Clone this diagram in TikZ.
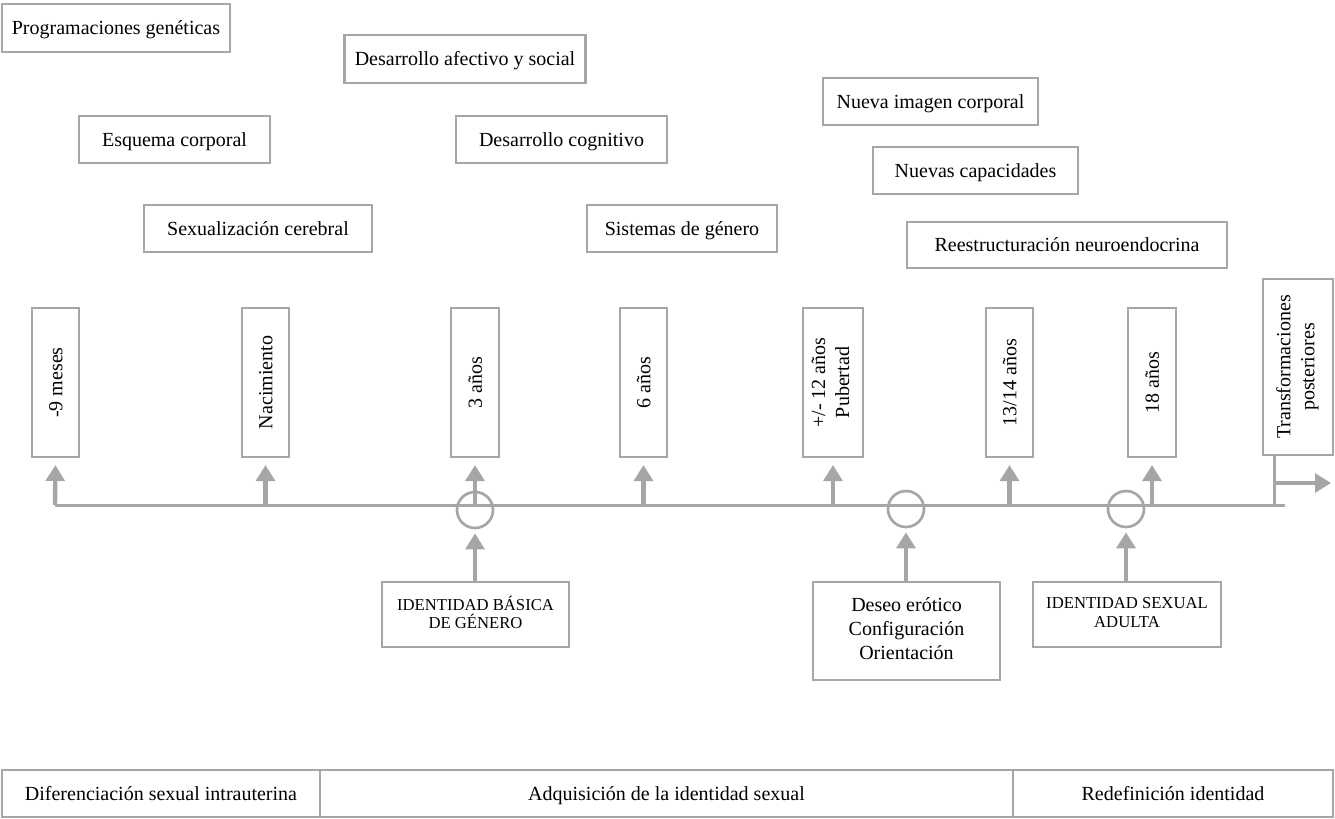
\documentclass[tikz,border=0pt]{standalone}
\usepackage{fontspec}
\setmainfont{Liberation Serif}
\usetikzlibrary{arrows.meta}
\definecolor{lg}{RGB}{166,166,166}
\newcommand\vs{\rule[-0.217\baselineskip]{0pt}{\baselineskip}}
\begin{document}
\begin{tikzpicture}[x=0.75pt,y=-0.75pt,
  box/.style={draw=lg,line width=2pt,inner sep=0pt,align=center,font=\fontsize{15}{18}\selectfont,execute at begin node=\vs},
  vbox/.style={box,rotate=90,minimum width=111.75pt},
  capbox/.style={box,font=\fontsize{12.5}{14}\selectfont},
  ring/.style={circle,draw=lg,line width=2pt,minimum size=27pt,inner sep=0pt},
  upar/.style={draw=lg,line width=3.3pt,-{Triangle[width=14pt,length=12pt]},shorten >=5pt},
  tline/.style={draw=lg,line width=2.25pt},
  band/.style={box,minimum height=35.25pt,font=\fontsize{15}{18}\selectfont}]
\useasboundingbox (0,0) rectangle (1335,818);
% top boxes
\node[box,minimum width=171pt,minimum height=36pt] (prog) at (116,28) {Programaciones genéticas};
\node[box,minimum width=180.75pt,minimum height=36pt] (afec) at (465,59) {Desarrollo afectivo y social};
\node[box,minimum width=143.25pt,minimum height=35.25pt] (esq) at (174.5,139.5) {Esquema corporal};
\node[box,minimum width=158.25pt,minimum height=35.25pt] (cogn) at (561.5,139.5) {Desarrollo cognitivo};
\node[box,minimum width=171pt,minimum height=35.25pt] (sexc) at (258,228.5) {Sexualización cerebral};
\node[box,minimum width=142.5pt,minimum height=35.25pt] (sisg) at (682,228.5) {Sistemas de género};
\node[box,minimum width=161.25pt,minimum height=35.25pt] (nimg) at (930.5,101.5) {Nueva imagen corporal};
\node[box,minimum width=153.75pt,minimum height=35.25pt] (ncap) at (975.5,170.5) {Nuevas capacidades};
\node[box,minimum width=240pt,minimum height=34.5pt] (rees) at (1067,245) {Reestructuración neuroendocrina};
% vertical boxes
\node[vbox,minimum height=35.25pt] (m9) at (55.5,382.5) {-9 meses};
\node[vbox,minimum height=35.25pt] (nac) at (265.5,382.5) {Nacimiento};
\node[vbox,minimum height=36pt] (a3) at (475,382.5) {3 años};
\node[vbox,minimum height=35.25pt] (a6) at (643.5,382.5) {6 años};
\node[vbox,minimum height=45pt] (pub) at (833,382.5) {+/- 12 años\\\vs Pubertad};
\node[vbox,minimum height=35.25pt] (a13) at (1009.5,382.5) {13/14 años};
\node[vbox,minimum height=36pt] (a18) at (1152,382.5) {18 años};
\node[vbox,minimum width=132pt,minimum height=52.5pt] (trans) at (1298,367) {Transformaciones\\\vs posteriores};
% timeline
\coordinate (t0) at (55,505);
\coordinate (tend) at (1285,505);
\draw[tline] (t0) -- (tend);
\coordinate (tnac) at (265.5,505);
\coordinate (ta3) at (475,505);
\coordinate (ta6) at (643.5,505);
\coordinate (tpub) at (833,505);
\coordinate (ta13) at (1009.5,505);
\coordinate (ta18) at (1152,505);
\draw[upar] (t0) -- (m9.west);
\draw[upar] (tnac) -- (nac.west);
\draw[upar] (ta3) -- (a3.west);
\draw[upar] (ta6) -- (a6.west);
\draw[upar] (tpub) -- (pub.west);
\draw[upar] (ta13) -- (a13.west);
\draw[upar] (ta18) -- (a18.west);
% rings
\node[ring] (r1) at (475,510) {};
\node[ring] (r2) at (906,509) {};
\node[ring] (r3) at (1126,509) {};
% bottom boxes
\node[capbox,minimum width=140.25pt,minimum height=48.75pt] (ibg) at (475.5,614.5) {IDENTIDAD BÁSICA\\\vs DE GÉNERO};
\node[box,minimum width=140.25pt,minimum height=73.5pt] (des) at (906.5,631) {Deseo erótico\\\vs Configuración\\\vs Orientación};
\node[capbox,minimum width=141pt,minimum height=48.75pt] (isa) at (1127,614.5) {IDENTIDAD SEXUAL\\\vs ADULTA};
\draw[upar,shorten >=3pt] (ibg.north -| r1) -- (r1.south);
\draw[upar,shorten >=3pt] (des.north -| r2) -- (r2.south);
\draw[upar,shorten >=3pt] (isa.north -| r3) -- (r3.south);
% transformaciones connector
\coordinate (tb) at ([xshift=9.75pt]trans.north west);
\coordinate (tbl) at (tb |- tend);
\coordinate (tm) at (1276,483);
\coordinate (tr) at (1331,483);
\draw[tline] (tb) -- (tbl);
\draw[draw=lg,line width=3.3pt,-{Triangle[width=14pt,length=12pt]}] (tm) -- (tr);
% bottom band
\node[band,minimum width=238.5pt] (b1) at (161,793.5) {Diferenciación sexual intrauterina};
\node[band,minimum width=519.75pt] (b2) at (666.5,793.5) {Adquisición de la identidad sexual};
\node[band,minimum width=240pt] (b3) at (1173,793.5) {Redefinición identidad};
\end{tikzpicture}
\end{document}
